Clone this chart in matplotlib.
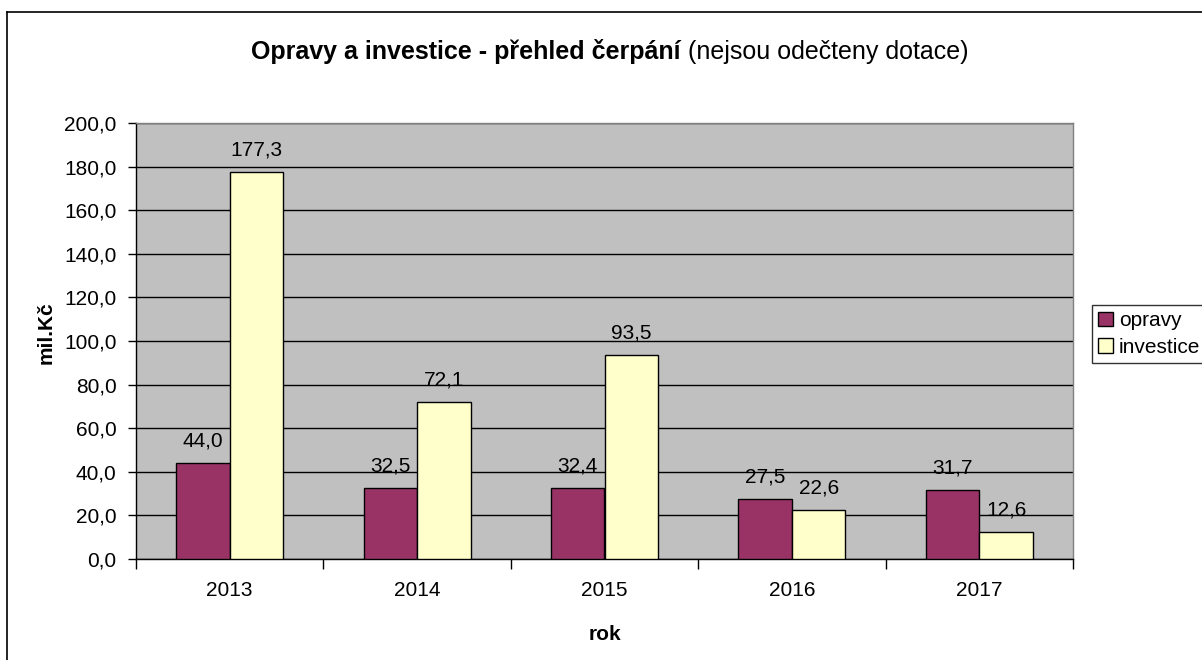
import numpy as np
import matplotlib.pyplot as plt
from matplotlib.patches import Patch
from matplotlib.lines import Line2D

# Data
roky = ["2013", "2014", "2015", "2016", "2017"]
opravy = [44.0, 32.5, 32.4, 27.5, 31.7]
investice = [177.3, 72.1, 93.5, 22.6, 12.6]

plt.rcParams['font.family'] = ['Liberation Sans', 'DejaVu Sans']

W, H = 1202, 660
fig = plt.figure(figsize=(W / 100, H / 100), dpi=100)

# Plot area in pixel coordinates
left, right, top, bottom = 136, 1073, 123, 559
ax = fig.add_axes([left / W, 1 - bottom / H, (right - left) / W, (bottom - top) / H])
ax.set_facecolor("#C0C0C0")

x = np.arange(len(roky))
sirka = 1 / 3.5
b1 = ax.bar(x - sirka / 2, opravy, sirka, color="#993366", edgecolor="black", linewidth=1, zorder=3)
b2 = ax.bar(x + sirka / 2, investice, sirka, color="#FFFFCC", edgecolor="black", linewidth=1, zorder=3)

for bars, vals in ((b1, opravy), (b2, investice)):
    for bar, v in zip(bars, vals):
        ax.annotate(f"{v:.1f}".replace(".", ","), (bar.get_x() + bar.get_width() / 2, v),
                    xytext=(0, 9), textcoords="offset points", ha="center", va="bottom",
                    fontsize=15, zorder=4)

ax.set_xlim(-0.5, len(roky) - 0.5)
ax.set_ylim(0, 200)
ax.set_yticks(np.arange(0, 201, 20))
ax.set_yticklabels([f"{v:.1f}".replace(".", ",") for v in np.arange(0, 201, 20)], fontsize=15)
ax.yaxis.grid(True, color="black", linewidth=1, zorder=0)
ax.set_axisbelow(True)

# category ticks at boundaries, labels at centres
ax.set_xticks(np.arange(-0.5, len(roky)), minor=False)
ax.set_xticklabels([""] * (len(roky) + 1))
ax.set_xticks(x, minor=True)
ax.set_xticklabels(roky, minor=True, fontsize=15)
ax.tick_params(axis="x", which="major", length=7, width=1, direction="out")
ax.tick_params(axis="x", which="minor", length=0, pad=16)
ax.tick_params(axis="y", length=6, width=1, direction="out", pad=8)

for s in ("top", "right"):
    ax.spines[s].set_color("#808080")
    ax.spines[s].set_linewidth(1)
for s in ("left", "bottom"):
    ax.spines[s].set_color("black")
    ax.spines[s].set_linewidth(1)

ax.set_xlabel("rok", fontsize=15, fontweight="bold", labelpad=18)
ax.set_ylabel("mil.Kč", fontsize=15, fontweight="bold")
ax.yaxis.set_label_coords(-0.086, 0.52)

# Title: bold part + normal part, centred together
fig.canvas.draw()
r = fig.canvas.get_renderer()
ty = 1 - 52 / H
t1 = fig.text(0, ty, "Opravy a investice - přehled čerpání", fontsize=18, fontweight="bold", va="center")
t2 = fig.text(0, ty, " (nejsou odečteny dotace)", fontsize=18, va="center")
w1 = t1.get_window_extent(r).width
w2 = t2.get_window_extent(r).width
x0 = 610 - (w1 + w2) / 2
t1.set_x(x0 / W)
t2.set_x((x0 + w1) / W)

# Outer chart border (left and top edges visible)
fig.add_artist(Line2D([7 / W, 7 / W], [1 - 12 / H, 0], color="black", linewidth=1.2))
fig.add_artist(Line2D([7 / W, 1], [1 - 12 / H, 1 - 12 / H], color="black", linewidth=1.2))

# Legend
handles = [Patch(facecolor="#993366", edgecolor="black", label="opravy"),
           Patch(facecolor="#FFFFCC", edgecolor="black", label="investice")]
leg = fig.legend(handles=handles, loc="upper left", bbox_to_anchor=(1092 / W, 1 - 305 / H),
                 fontsize=15, frameon=True, fancybox=False, handlelength=0.7, handleheight=0.7,
                 handletextpad=0.3, borderaxespad=0, borderpad=0.3, labelspacing=0.35)
leg.get_frame().set_edgecolor("black")
leg.get_frame().set_linewidth(1)

fig.savefig("out.png", dpi=100)
